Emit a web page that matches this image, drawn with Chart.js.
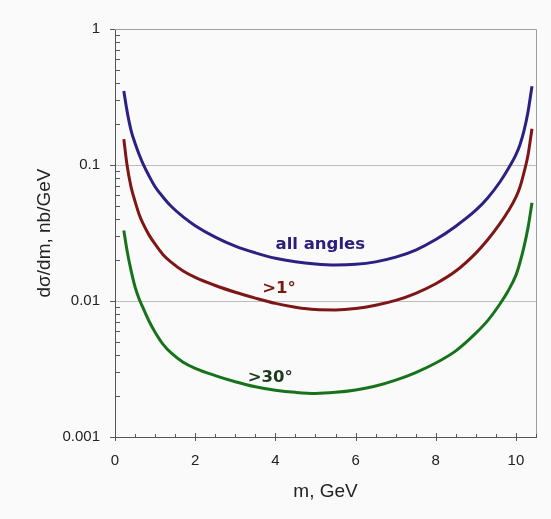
<!DOCTYPE html>
<html>
<head>
<meta charset="utf-8">
<script src="https://cdn.jsdelivr.net/npm/chart.js@4"></script>
<style>
  html, body { margin: 0; padding: 0; background: #fafafa; }
  #wrap { width: 551px; height: 519px; }
</style>
</head>
<body>
<div id="wrap"><canvas id="xsec" width="551" height="519"></canvas></div>
<script>
// ---- data ----
const massGeV    = [0.22, 0.3, 0.4, 0.5, 0.6, 0.7, 0.85, 1.0, 1.2, 1.4, 1.7, 2.0, 2.5, 3.0, 3.5, 4.0, 4.5, 5.0, 5.5, 6.0, 6.5, 7.0, 7.5, 8.0, 8.5, 9.0, 9.3, 9.6, 9.8, 10.0, 10.1, 10.2, 10.3, 10.4];
const allAngles  = [0.35, 0.25, 0.18, 0.1445, 0.12, 0.102, 0.083, 0.0692, 0.058, 0.0497, 0.0415, 0.0358, 0.0295, 0.0253, 0.0226, 0.0206, 0.0194, 0.0187, 0.0184, 0.0186, 0.0194, 0.021, 0.0237, 0.0283, 0.0355, 0.0465, 0.0575, 0.075, 0.093, 0.119, 0.141, 0.178, 0.245, 0.38];
const above1deg  = [0.155, 0.1, 0.069, 0.054, 0.0435, 0.037, 0.0305, 0.0262, 0.0219, 0.0193, 0.0166, 0.0149, 0.013, 0.0116, 0.0105, 0.0096, 0.009, 0.00865, 0.0086, 0.0088, 0.0093, 0.0101, 0.0114, 0.0134, 0.0166, 0.0225, 0.0283, 0.037, 0.0455, 0.058, 0.069, 0.088, 0.118, 0.185];
const above30deg = [0.033, 0.0235, 0.0168, 0.0127, 0.0104, 0.0089, 0.0071, 0.0059, 0.0048, 0.00415, 0.00355, 0.0032, 0.00283, 0.00255, 0.00234, 0.00221, 0.00213, 0.00209, 0.00213, 0.00222, 0.00237, 0.00262, 0.00298, 0.0035, 0.0043, 0.0058, 0.0072, 0.0095, 0.0118, 0.0155, 0.0192, 0.025, 0.0345, 0.0527];

const seriesNames  = ['all angles', '>1°', '>30°'];
const xTickLabels  = ['0', '2', '4', '6', '8', '10'];
const yTickLabels  = ['0.001', '0.01', '0.1', '1'];

// where the curve names sit (data coords)
const nameAnchors = [
    { x: 5.12, y: 0.0259, color: '#2a2079' },
    { x: 4.09, y: 0.0124, color: '#761a12' },
    { x: 3.87, y: 0.00274, color: '#1e3a1e' }
];

const lineColors = ['#2b2183', '#7e1616', '#17731b'];

function toPoints(ys) {
    return massGeV.map((m, i) => ({ x: m, y: ys[i] }));
}

// ---- extra drawing: frame, tick marks, curve names ----
const frameTicks = {
    id: 'frameTicks',
    afterDatasetsDraw(chart) {
        const { ctx, chartArea: a, scales: { x, y } } = chart;
        ctx.save();
        ctx.lineWidth = 1;

        // top + right edge of the box
        ctx.strokeStyle = '#9a9fa3';
        ctx.beginPath();
        ctx.moveTo(a.left, a.top + 0.5);
        ctx.lineTo(a.right + 0.5, a.top + 0.5);
        ctx.lineTo(a.right + 0.5, a.bottom);
        ctx.stroke();

        ctx.strokeStyle = '#555';
        y.ticks.forEach(t => {
            const py = Math.round(y.getPixelForValue(t.value)) + 0.5;
            const major = yTickLabels.includes(String(t.value));
            ctx.beginPath();
            if (major) { ctx.moveTo(a.left - 5, py); ctx.lineTo(a.left, py); }
            else { ctx.moveTo(a.left, py); ctx.lineTo(a.left + 5, py); }
            ctx.stroke();
        });
        x.ticks.forEach(t => {
            const px = Math.round(x.getPixelForValue(t.value)) + 0.5;
            const major = xTickLabels.includes(String(t.value));
            ctx.beginPath();
            ctx.moveTo(px, a.bottom + (major ? 4 : 0));
            ctx.lineTo(px, a.bottom - (major ? 4 : 3));
            ctx.stroke();
        });

        ctx.font = 'bold 16.5px "DejaVu Sans", sans-serif';
        ctx.textAlign = 'center';
        ctx.textBaseline = 'middle';
        nameAnchors.forEach((n, i) => {
            ctx.fillStyle = n.color;
            ctx.fillText(seriesNames[i], x.getPixelForValue(n.x), y.getPixelForValue(n.y));
        });
        ctx.restore();
    }
};

const tickFont = { family: '"Liberation Sans", Arial, sans-serif', size: 15 };
const titleFont = { family: '"Liberation Sans", Arial, sans-serif', size: 19 };

new Chart(document.getElementById('xsec').getContext('2d'), {
    type: 'scatter',
    data: {
        datasets: [allAngles, above1deg, above30deg].map((ys, i) => ({
            label: seriesNames[i],
            data: toPoints(ys),
            showLine: true,
            borderColor: lineColors[i],
            borderWidth: 3,
            pointRadius: 0,
            cubicInterpolationMode: 'monotone'
        }))
    },
    options: {
        responsive: false,
        animation: false,
        devicePixelRatio: 1,
        layout: { padding: { top: 29, right: 13, left: 0, bottom: 0 } },
        plugins: { legend: { display: false }, tooltip: { enabled: false } },
        scales: {
            x: {
                type: 'linear', min: 0, max: 10.5,
                afterBuildTicks: s => { s.ticks = []; for (let i = 0; i <= 21; i++) s.ticks.push({ value: i * 0.5 }); },
                afterFit: s => { s.height = 82; },
                grid: { display: false, drawTicks: false },
                border: { display: true, color: '#555', width: 1 },
                ticks: {
                    autoSkip: false, maxRotation: 0, padding: 15, color: '#222', font: tickFont,
                    callback: v => xTickLabels.includes(String(v)) ? String(v) : ''
                },
                title: { display: true, text: 'm, GeV', color: '#222', font: titleFont, padding: { top: 0, bottom: 16 } }
            },
            y: {
                type: 'logarithmic', min: 0.001, max: 1,
                afterBuildTicks: s => {
                    s.ticks = [];
                    for (let d = -3; d < 0; d++)
                        for (let m = 1; m <= 9; m++) s.ticks.push({ value: parseFloat((m * Math.pow(10, d)).toPrecision(3)) });
                    s.ticks.push({ value: 1 });
                },
                afterFit: s => { s.width = 115; },
                grid: {
                    drawTicks: false,
                    color: c => (c.tick && (c.tick.value === 0.1 || c.tick.value === 0.01)) ? '#bdbdbd' : 'rgba(0,0,0,0)'
                },
                border: { display: true, color: '#555', width: 1 },
                ticks: {
                    autoSkip: false, padding: 15, color: '#222', font: tickFont,
                    callback: v => yTickLabels.includes(String(v)) ? String(v) : ''
                },
                title: { display: true, text: 'dσ/dm, nb/GeV', color: '#222', font: titleFont, padding: { top: 33, bottom: 0 } }
            }
        }
    },
    plugins: [frameTicks]
});
</script>
</body>
</html>
